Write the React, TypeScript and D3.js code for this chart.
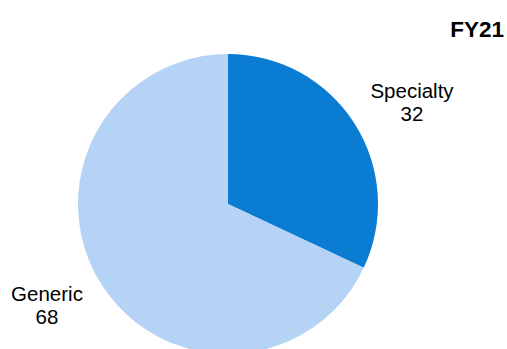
import React from "react";
import * as d3 from "d3";

const categories = ["Specialty", "Generic"];
const values = [32, 68];
const colors = ["#0A7CD2", "#B4D3F5"];
const title = "FY21";

export default function App() {
  const width = 507;
  const height = 349;
  const cx = 228;
  const cy = 204;
  const r = 150;
  const pie = d3.pie<number>().sort(null).value((d) => d)(values);
  const arc = d3.arc<d3.PieArcDatum<number>>().innerRadius(0).outerRadius(r);
  const labelPos = [
    { x: 412, y: 98 },
    { x: 47, y: 301 },
  ];
  return (
    <svg
      width={width}
      height={height}
      style={{ position: "absolute", left: 0, top: 0 }}
      fontFamily="Liberation Sans, Arial, sans-serif"
    >
      <rect width={width} height={height} fill="#fff" />
      <g transform={`translate(${cx},${cy})`}>
        {pie.map((p, i) => (
          <path key={i} d={arc(p) || ""} fill={colors[i]} />
        ))}
      </g>
      <text x={504} y={37} textAnchor="end" fontSize={22.5} fontWeight="bold" fill="#000">
        {title}
      </text>
      {categories.map((c, i) => (
        <text key={c} textAnchor="middle" fontSize={20.5} fill="#000">
          <tspan x={labelPos[i].x} y={labelPos[i].y}>{c}</tspan>
          <tspan x={labelPos[i].x} y={labelPos[i].y + 23}>{values[i]}</tspan>
        </text>
      ))}
    </svg>
  );
}
